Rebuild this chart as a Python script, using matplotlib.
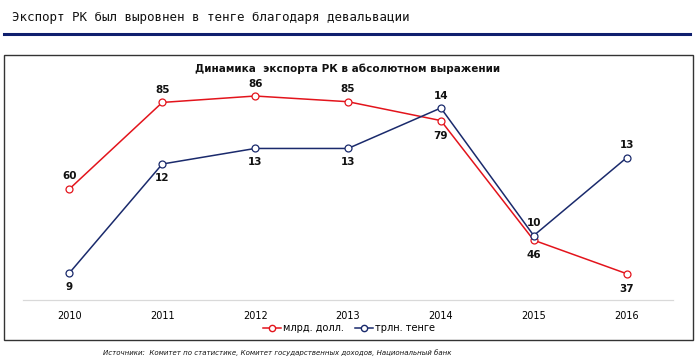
import matplotlib.pyplot as plt
from matplotlib.patches import Rectangle
from matplotlib.lines import Line2D

years = ['2010', '2011', '2012', '2013', '2014', '2015', '2016']
usd_bln = [60.3, 84.6, 86.4, 84.8, 79.5, 45.9, 36.5]
kzt_trln = [8.9, 12.4, 12.9, 12.9, 14.2, 10.1, 12.6]
usd_labels = ['60', '85', '86', '85', '79', '46', '37']
kzt_labels = ['9', '12', '13', '13', '14', '10', '13']
usd_pos = ['above', 'above', 'above', 'above', 'below', 'below', 'below']
kzt_pos = ['below', 'below', 'below', 'below', 'above', 'above', 'above']

red = '#E3141C'
navy = '#1A2A6C'

fig = plt.figure(figsize=(7, 3.63), dpi=100)

# heading and rule
fig.text(12 / 700, 1 - 17 / 363, 'Экспорт РК был выровнен в тенге благодаря девальвации',
         family='DejaVu Sans Mono', fontsize=9, va='center', ha='left', color='#111111')
fig.add_artist(Line2D([4 / 700, 690 / 700], [1 - 34 / 363] * 2, color='#0F1F6E', lw=2.2))

# chart frame
fig.add_artist(Rectangle((4 / 700, 1 - 340 / 363), 689 / 700, 285 / 363, transform=fig.transFigure,
                         fill=False, edgecolor='#333333', lw=1.0))

ax = fig.add_axes([23 / 700, 1 - 300 / 363, 650 / 700, 220 / 363])
ax2 = ax.twinx()
x = list(range(len(years)))

ax.plot(x, usd_bln, color=red, lw=1.1, marker='o', ms=5, mfc='white', mec=red, mew=0.9, zorder=3)
ax2.plot(x, kzt_trln, color=navy, lw=1.1, marker='o', ms=5, mfc='white', mec=navy, mew=0.9, zorder=3)

ax.set_xlim(-0.5, 6.5)
ax.set_ylim(29.1, 90.9)
ax2.set_ylim(8.03, 15.1)

for a in (ax, ax2):
    for s in ['top', 'right', 'left']:
        a.spines[s].set_visible(False)
    a.spines['bottom'].set_color('#D9D9D9')
    a.set_yticks([])
ax.set_xticks(x)
ax.set_xticklabels(years, fontsize=7)
ax.tick_params(axis='x', length=0, pad=8)

for i in x:
    off = 9 if usd_pos[i] == 'above' else -11
    ax.annotate(usd_labels[i], (i, usd_bln[i]), xytext=(0, off), textcoords='offset points',
                ha='center', va='center', fontsize=7.5, fontweight='bold', color='#111111')
    off = 9 if kzt_pos[i] == 'above' else -10
    ax2.annotate(kzt_labels[i], (i, kzt_trln[i]), xytext=(0, off), textcoords='offset points',
                 ha='center', va='center', fontsize=7.5, fontweight='bold', color='#111111')

fig.text(348 / 700, 1 - 69 / 363, 'Динамика  экспорта РК в абсолютном выражении',
         fontsize=7.5, fontweight='bold', ha='center', va='center', color='#111111')

h1 = Line2D([], [], color=red, lw=1.1, marker='o', ms=4.5, mfc='white', mec=red)
h2 = Line2D([], [], color=navy, lw=1.1, marker='o', ms=4.5, mfc='white', mec=navy)
fig.legend([h1, h2], ['млрд. долл.', 'трлн. тенге'], loc='center', bbox_to_anchor=(349 / 700, 1 - 328 / 363),
           ncol=2, frameon=False, fontsize=7, handlelength=1.8, handletextpad=0.2, columnspacing=1.2)

fig.text(103 / 700, 1 - 353 / 363,
         'Источники:  Комитет по статистике, Комитет государственных доходов, Национальный банк',
         fontsize=5, style='italic', ha='left', va='center', color='#111111')

fig.savefig('out.png', dpi=100)
